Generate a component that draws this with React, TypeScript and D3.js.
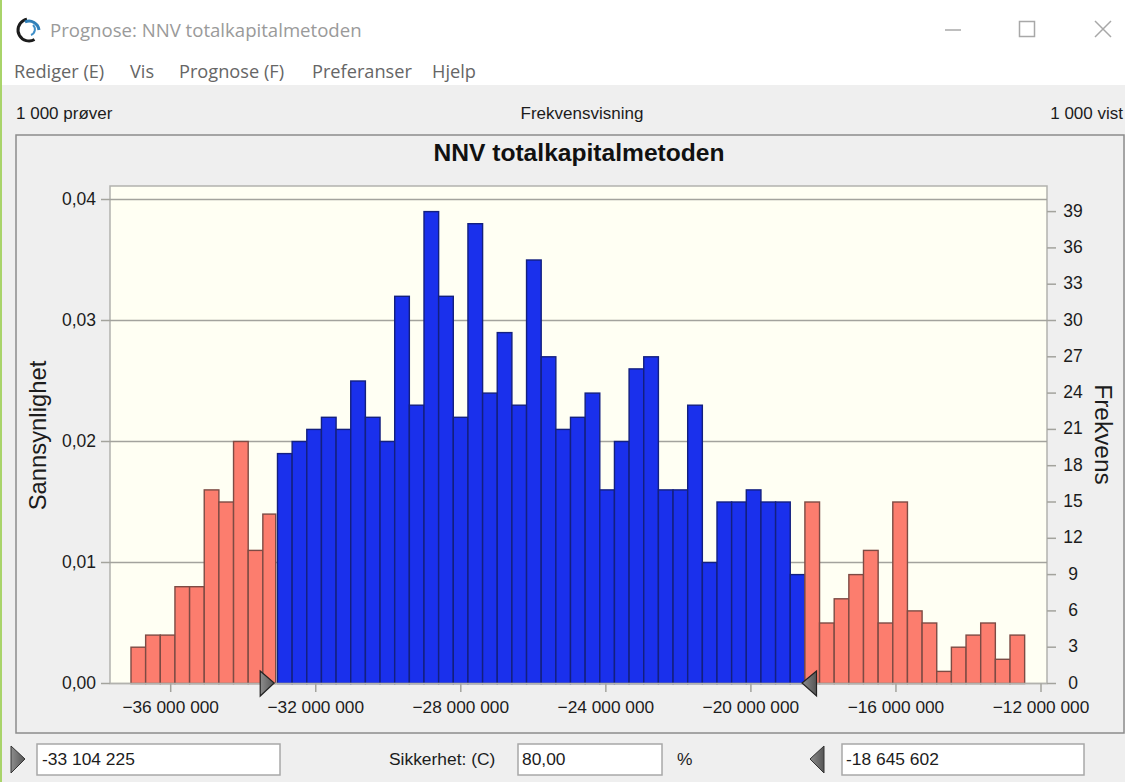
import React from "react";
import * as d3 from "d3";

const lowerTail = [3, 4, 4, 8, 8, 16, 15, 20, 11, 14];
const certain = [19, 20, 21, 22, 21, 25, 22, 20, 32, 23, 39, 32, 22, 38, 24, 29, 23, 35, 27, 21, 22, 24, 16, 20, 26, 27, 16, 16, 23, 10, 15, 15, 16, 15, 15, 9];
const upperTail = [15, 5, 7, 9, 11, 5, 15, 6, 5, 1, 3, 4, 5, 2, 4];
const firstBinStart = -37095000;
const binWidth = 404000;
const xTicks = [-36000000, -32000000, -28000000, -24000000, -20000000, -16000000, -12000000];
const probTicks = [0, 0.01, 0.02, 0.03, 0.04];
const freqTicks = [0, 3, 6, 9, 12, 15, 18, 21, 24, 27, 30, 33, 36, 39];
const menuItems = [["Rediger (E)", 14], ["Vis", 130], ["Prognose (F)", 179], ["Preferanser", 312], ["Hjelp", 432]] as [string, number][];
const lowerValue = "-33 104 225";
const upperValue = "-18 645 602";
const certaintyValue = "80,00";
const lowerBound = -33104225;
const upperBound = -18645602;

const SANS = "'Liberation Sans', Arial, sans-serif";
const UI = "'Open Sans', 'Noto Sans', sans-serif";
const fmtX = (v: number) => d3.format(",")(v).replace(/,/g, " ");

export default function App() {
  const left = 110, right = 1047, top = 186, bottom = 683.5;
  const x = d3.scaleLinear().domain([-36000000, -12000000]).range([170.7, 1041]);
  const yProb = d3.scaleLinear().domain([0, 0.04]).range([bottom, 199.5]);
  const yFreq = d3.scaleLinear().domain([0, 40]).range([bottom, 199.5]);
  const bins = [
    ...lowerTail.map((v) => ({ v, kind: "tail" })),
    ...certain.map((v) => ({ v, kind: "mid" })),
    ...upperTail.map((v) => ({ v, kind: "tail" })),
  ];
  const xL = x(lowerBound), xU = x(upperBound);
  return (
    <svg width={1125} height={782} style={{ position: "absolute", left: 0, top: 0, display: "block" }}>
      <rect width={1125} height={782} fill="#ffffff" />
      <rect y={85} width={1125} height={697} fill="#efefef" />
      <rect width={2} height={782} fill="#a9d46a" />

      {/* title bar */}
      <g fill="none">
        <circle cx={29} cy={30} r={11} stroke="#1c1c1c" strokeWidth={3} strokeDasharray="38 32" transform="rotate(60 29 30)" />
        <path d="M25 22 A10 10 0 0 1 39 30" stroke="#2f7fb8" strokeWidth={3} />
        <path d="M33 25 A6 6 0 0 1 31 35" stroke="#3f8fc8" strokeWidth={2} />
      </g>
      <text x={50} y={37} fontFamily={UI} fontSize={18.6} fill="#9a9a9a">Prognose: NNV totalkapitalmetoden</text>
      <line x1={945} x2={961} y1={30} y2={30} stroke="#a8a8a8" strokeWidth={1.5} />
      <rect x={1019.5} y={21.5} width={15} height={15} fill="none" stroke="#a8a8a8" strokeWidth={1.5} />
      <path d="M1095 21 L1111 37 M1111 21 L1095 37" stroke="#a8a8a8" strokeWidth={1.5} />
      {menuItems.map(([t, px]) => (
        <text key={t} x={px} y={78} fontFamily={UI} fontSize={18.2} fill="#666">{t}</text>
      ))}

      {/* status line */}
      <text x={16} y={119} fontFamily={SANS} fontSize={17} fill="#1c1c1c">1 000 prøver</text>
      <text x={582} y={119} textAnchor="middle" fontFamily={SANS} fontSize={17} fill="#1c1c1c">Frekvensvisning</text>
      <text x={1123} y={119} textAnchor="end" fontFamily={SANS} fontSize={17} fill="#1c1c1c">1 000 vist</text>

      {/* panel */}
      <rect x={16} y={135} width={1108} height={598} fill="#efefef" stroke="#8c8c8c" strokeWidth={1.5} />
      <text x={579} y={161} textAnchor="middle" fontFamily={SANS} fontWeight="bold" fontSize={24.6} fill="#111">NNV totalkapitalmetoden</text>

      {/* plot */}
      <rect x={left} y={top} width={right - left} height={bottom - top} fill="#fffff3" stroke="#b2b2ae" strokeWidth={1.5} />
      {probTicks.filter((t) => t > 0).map((t) => (
        <line key={t} x1={left} x2={right} y1={yProb(t)} y2={yProb(t)} stroke="#a3a39d" strokeWidth={1.5} />
      ))}
      {bins.map((b, i) => {
        const a = firstBinStart + i * binWidth;
        const x0 = x(a);
        const x1 = i === lowerTail.length - 1 ? xL : x(a + binWidth);
        return (
          <rect
            key={i}
            x={x0}
            y={yFreq(b.v)}
            width={x1 - x0}
            height={bottom - yFreq(b.v)}
            fill={b.kind === "mid" ? "#1a30ec" : "#fc7d6e"}
            stroke={b.kind === "mid" ? "#13207f" : "#7d4b44"}
            strokeWidth={1.4}
          />
        );
      })}
      <line x1={left} x2={right} y1={bottom} y2={bottom} stroke="#b2b2ae" strokeWidth={1.5} />

      {/* left axis */}
      {probTicks.map((t) => (
        <g key={t}>
          <line x1={101} x2={left} y1={yProb(t)} y2={yProb(t)} stroke="#a3a39d" strokeWidth={1.5} />
          <text x={96} y={yProb(t) + 5} textAnchor="end" fontFamily={SANS} fontSize={17.5} fill="#1c1c1c">{t.toFixed(2).replace(".", ",")}</text>
        </g>
      ))}
      <text transform="translate(46 435.5) rotate(-90)" textAnchor="middle" fontFamily={SANS} fontSize={23.8} fill="#1c1c1c">Sannsynlighet</text>

      {/* right axis */}
      {freqTicks.map((t) => (
        <g key={t}>
          <line x1={right} x2={1056} y1={yFreq(t)} y2={yFreq(t)} stroke="#a3a39d" strokeWidth={1.5} />
          <text x={1073} y={yFreq(t) + 5} textAnchor="middle" fontFamily={SANS} fontSize={17.5} fill="#1c1c1c">{t}</text>
        </g>
      ))}
      <text transform="translate(1095 434.5) rotate(90)" textAnchor="middle" fontFamily={SANS} fontSize={24.4} fill="#1c1c1c">Frekvens</text>

      {/* x axis */}
      {xTicks.map((t) => (
        <g key={t}>
          <line x1={x(t)} x2={x(t)} y1={bottom} y2={692} stroke="#a3a39d" strokeWidth={1.5} />
          <text x={x(t)} y={713} textAnchor="middle" fontFamily={SANS} fontSize={17.3} fill="#1c1c1c">{fmtX(t)}</text>
        </g>
      ))}

      {/* certainty handles */}
      <defs>
        <linearGradient id="handle" x1="0" x2="1" y1="0" y2="0">
          <stop offset="0" stopColor="#8d8d8d" />
          <stop offset="1" stopColor="#555" />
        </linearGradient>
      </defs>
      <path d={`M${xL - 15.5} 671 L${xL - 1.5} 683 L${xL - 15.5} 696 Z`} fill="url(#handle)" stroke="#222" strokeWidth={1.2} />
      <path d={`M${xU + 16.5} 671 L${xU + 2} 683 L${xU + 16.5} 696 Z`} fill="url(#handle)" stroke="#222" strokeWidth={1.2} />

      {/* bottom controls */}
      <path d="M11 746 L25 759 L11 773 Z" fill="url(#handle)" stroke="#333" strokeWidth={1} />
      <rect x={37} y={744} width={243} height={31} fill="#fff" stroke="#a8a8a8" strokeWidth={1.5} />
      <text x={42} y={765} fontFamily={SANS} fontSize={17.4} fill="#1c1c1c">{lowerValue}</text>
      <text x={389} y={765} fontFamily={SANS} fontSize={17.4} fill="#1c1c1c">Sikkerhet: (C)</text>
      <rect x={518} y={744} width={144} height={31} fill="#fff" stroke="#a8a8a8" strokeWidth={1.5} />
      <text x={522} y={765} fontFamily={SANS} fontSize={17.4} fill="#1c1c1c">{certaintyValue}</text>
      <text x={677} y={765} fontFamily={SANS} fontSize={17.4} fill="#1c1c1c">%</text>
      <path d="M824 746 L810 759 L824 773 Z" fill="url(#handle)" stroke="#333" strokeWidth={1} />
      <rect x={842} y={744} width={242} height={31} fill="#fff" stroke="#a8a8a8" strokeWidth={1.5} />
      <text x={846} y={765} fontFamily={SANS} fontSize={17.4} fill="#1c1c1c">{upperValue}</text>
    </svg>
  );
}
